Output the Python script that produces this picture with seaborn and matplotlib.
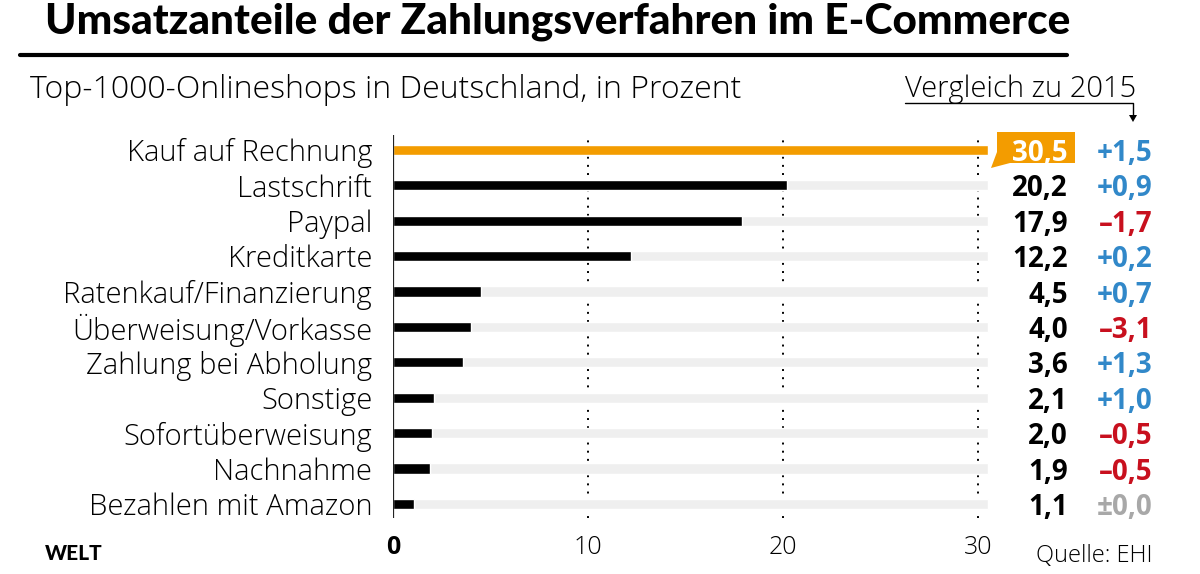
import numpy as np
import pandas as pd
import seaborn as sns
import matplotlib.pyplot as plt
from matplotlib.patches import Polygon

categories = ['Kauf auf Rechnung', 'Lastschrift', 'Paypal', 'Kreditkarte',
              'Ratenkauf/Finanzierung', 'Überweisung/Vorkasse', 'Zahlung bei Abholung',
              'Sonstige', 'Sofortüberweisung', 'Nachnahme', 'Bezahlen mit Amazon']
shares = [30.5, 20.2, 17.9, 12.2, 4.5, 4.0, 3.6, 2.1, 2.0, 1.9, 1.1]
changes = [1.5, 0.9, -1.7, 0.2, 0.7, -3.1, 1.3, 1.0, -0.5, -0.5, 0.0]
x_ticks = [0, 10, 20, 30]

ORANGE = '#f39c00'
BLUE = '#3188c9'
RED = '#c8101e'
GREY = '#a8a8a8'

sns.set_theme(style='white')
plt.rcParams['font.family'] = ['Open Sans', 'DejaVu Sans']
plt.rcParams['text.color'] = 'black'
plt.rcParams['xtick.color'] = 'black'
plt.rcParams['ytick.color'] = 'black'

df = pd.DataFrame({'cat': categories, 'share': shares})
df['bg'] = max(shares)

W, H = 1200, 574
def fx(px):
    return px / W
def fy(py):
    return 1 - py / H

fig = plt.figure(figsize=(12, 5.74), dpi=100)
ax = fig.add_axes([fx(393), fy(518), (997.5 - 393) / W, (518 - 135) / H])

# grey background tracks
sns.barplot(data=df, y='cat', x='bg', color='#efefef', saturation=1, width=0.29,
            ax=ax, orient='h')
# value bars
palette = {c: (ORANGE if i == 0 else 'black') for i, c in enumerate(categories)}
sns.barplot(data=df, y='cat', x='share', hue='cat', palette=palette, legend=False,
            saturation=1, width=0.29, ax=ax, orient='h')

ax.set_xlim(0, 31)
ax.set_ylim(10.4, -0.42)
for x in x_ticks[1:]:
    ax.axvline(x, color='black', lw=1.4, ls=(0, (1, 3.2)), zorder=0.5)
ax.axvline(0, color='#222222', lw=1.6, zorder=5)
for s in ax.spines.values():
    s.set_visible(False)
ax.set_xlabel('')
ax.set_ylabel('')
ax.set_xticks(x_ticks)
ax.set_xticklabels([str(t) for t in x_ticks], fontsize=18, fontweight='light')
ax.get_xticklabels()[0].set_fontweight('bold')
ax.tick_params(axis='x', length=0, pad=12)
ax.set_yticks(range(len(categories)))
ax.set_yticklabels(categories, fontsize=21, fontweight='light')
ax.tick_params(axis='y', length=0, pad=15)

# highlight box for the first value
fig.add_artist(Polygon([[fx(997), fy(132)], [fx(1075), fy(132)], [fx(1075), fy(163)],
                        [fx(1010), fy(163)], [fx(991), fy(168)], [fx(997), fy(152)]],
                       closed=True, transform=fig.transFigure, fc=ORANGE, ec='none'))

# value and change labels
for i, (v, c) in enumerate(zip(shares, changes)):
    vt = f'{v:.1f}'.replace('.', ',')
    if c > 0:
        ct, col = '+' + f'{c:.1f}'.replace('.', ','), BLUE
    elif c < 0:
        ct, col = '–' + f'{abs(c):.1f}'.replace('.', ','), RED
    else:
        ct, col = '±0,0', GREY
    yfig = fy(150 + i * 35.4)
    fig.text(fx(1068), yfig, vt, ha='right', va='center_baseline', fontsize=20,
             fontweight='bold', color='white' if i == 0 else 'black')
    fig.text(fx(1152), yfig, ct, ha='right', va='center_baseline', fontsize=20,
             fontweight='bold', color=col)

# title, rule, subtitle
fig.text(fx(45), fy(22), 'Umsatzanteile der Zahlungsverfahren im E-Commerce',
         fontsize=30.5, fontweight='black', family='Lato', va='center', ha='left')
fig.add_artist(plt.Line2D([fx(20), fx(1067)], [fy(55), fy(55)],
                          color='black', lw=3, transform=fig.transFigure))
fig.text(fx(30), fy(90), 'Top-1000-Onlineshops in Deutschland, in Prozent',
         fontsize=23, fontweight='light', va='center', ha='left')
fig.text(fx(1136), fy(89), 'Vergleich zu 2015', fontsize=21, fontweight='light',
         va='center', ha='right')
fig.add_artist(plt.Line2D([fx(905), fx(1133), fx(1133)], [fy(103), fy(103), fy(116)],
                          color='black', lw=1, transform=fig.transFigure))
fig.add_artist(Polygon([[fx(1129), fy(115)], [fx(1137), fy(115)], [fx(1133), fy(122)]],
                       closed=True, transform=fig.transFigure, fc='black', ec='none'))

# footer
fig.text(fx(45), fy(553), 'WELT', fontsize=15, fontweight='black', family='Lato',
         va='center', ha='left')
fig.text(fx(1153), fy(556), 'Quelle: EHI', fontsize=17, fontweight='light',
         va='center', ha='right')

fig.savefig('out.png', dpi=100, facecolor='white')
